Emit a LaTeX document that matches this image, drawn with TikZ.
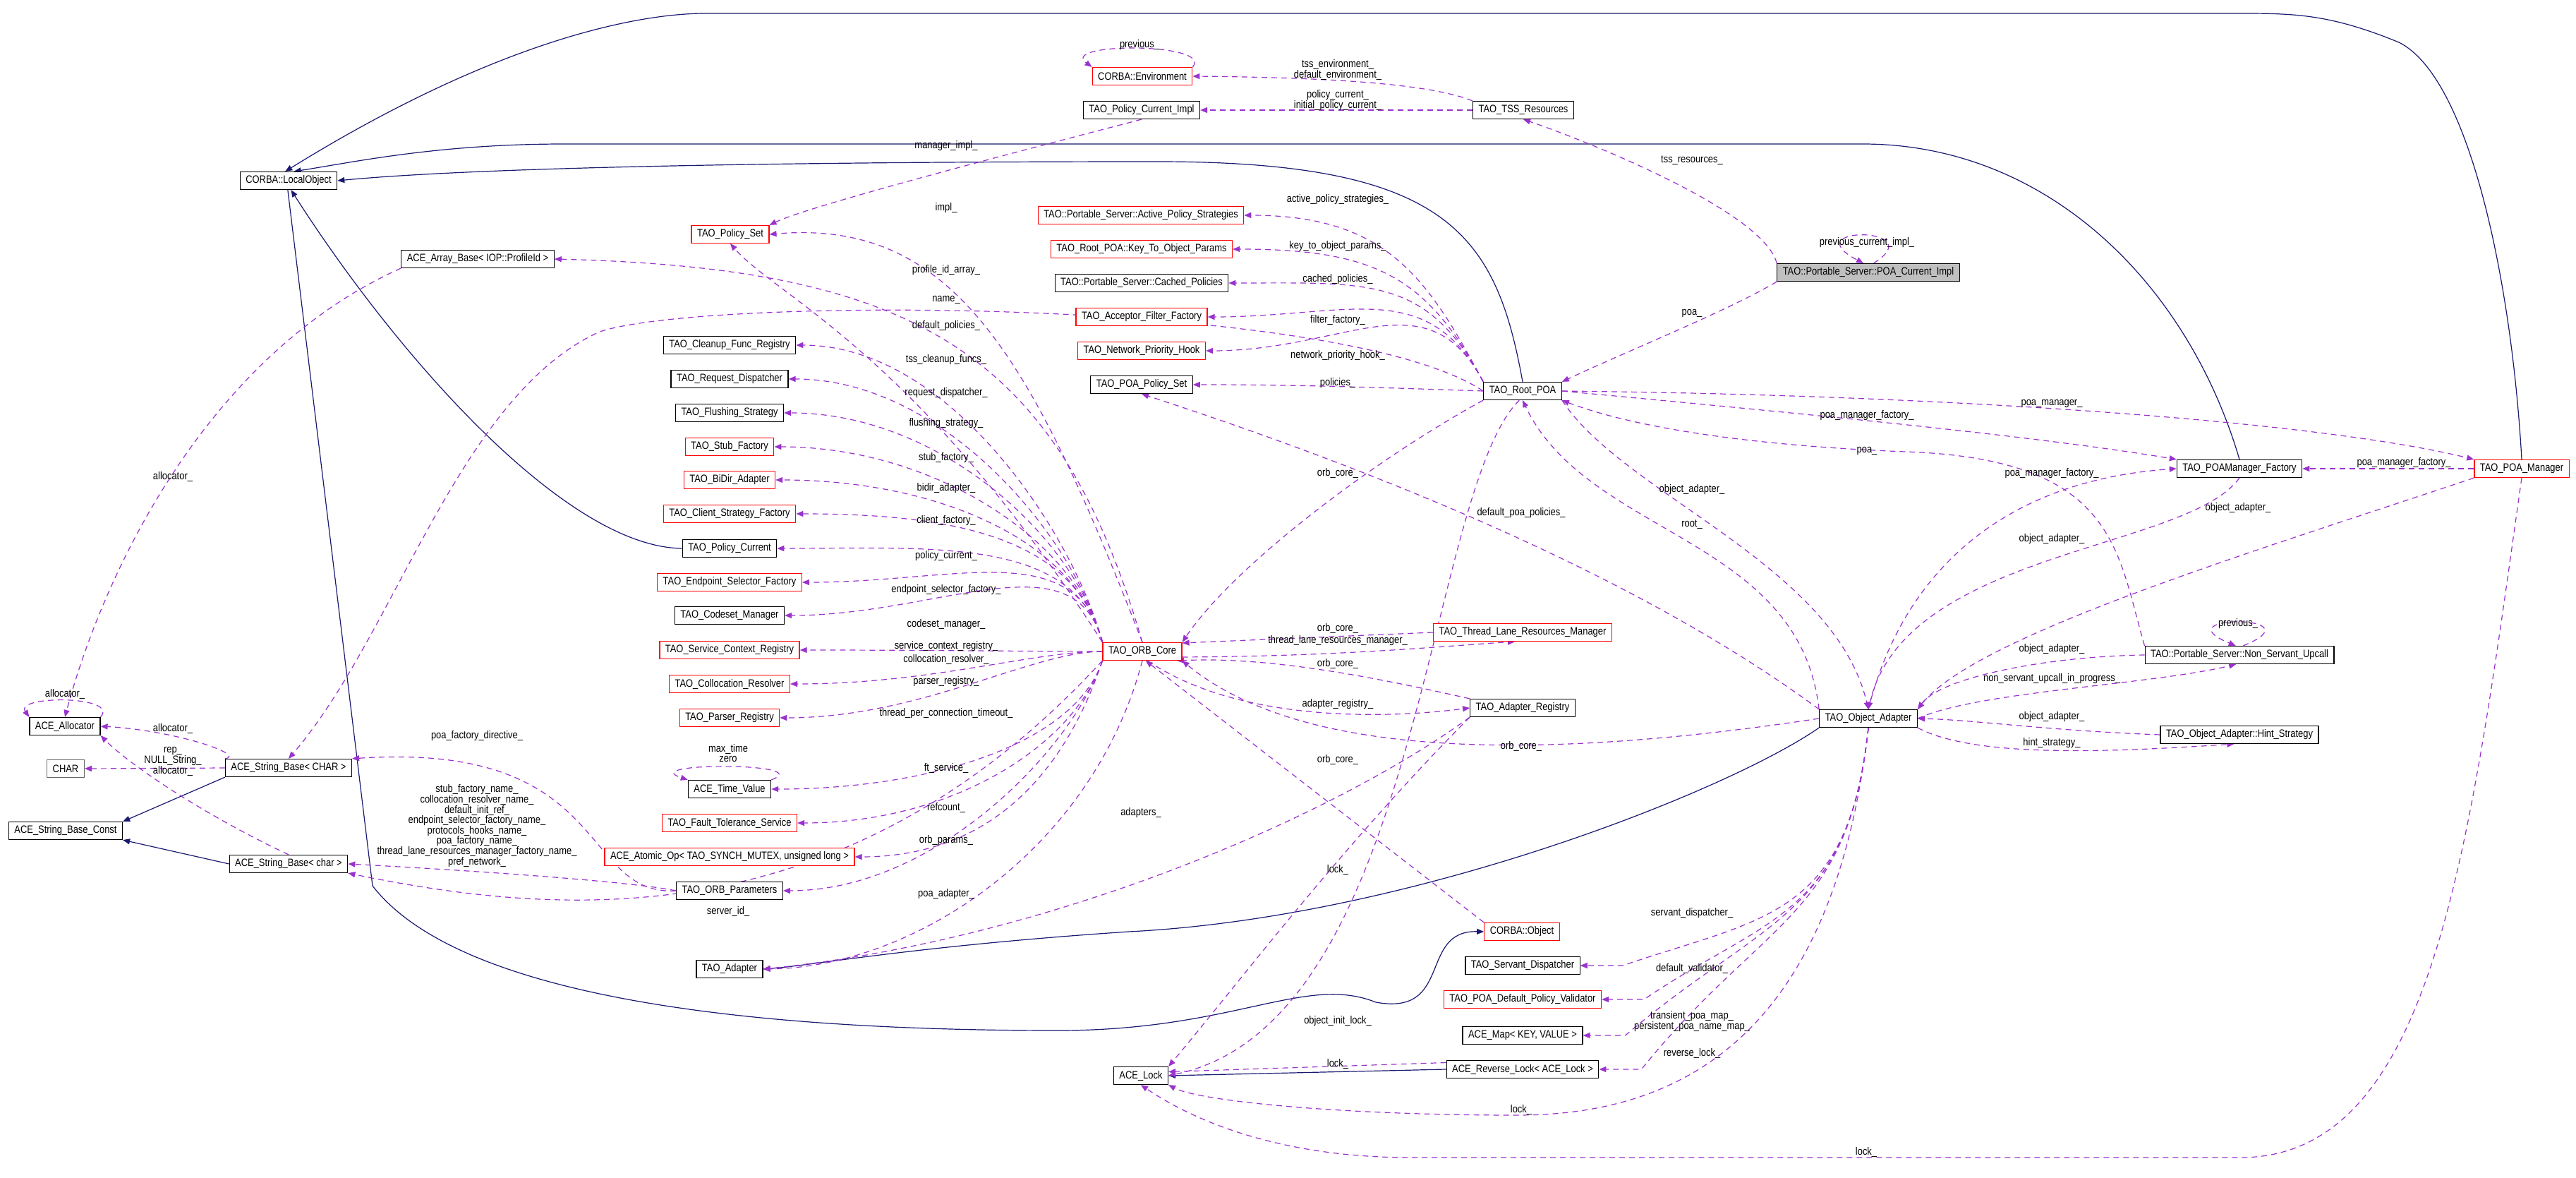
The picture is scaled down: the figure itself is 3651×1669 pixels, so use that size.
\documentclass[tikz,border=0pt]{standalone}
\usepackage{fontspec}
\newfontfamily\dx[FakeStretch=0.85]{Liberation Sans}
\usetikzlibrary{arrows.meta,calc}
\pgfdeclarelayer{bg}\pgfsetlayers{bg,main}
\definecolor{dep}{HTML}{9A32CD}
\definecolor{inh}{HTML}{191970}
\begin{document}
\begin{tikzpicture}[x=0.5pt,y=-0.5pt,
 box/.style={draw=black,fill=white,line width=0.6pt,inner xsep=4pt,inner ysep=0pt,minimum height=12.5pt,font=\dx\fontsize{7.6}{8}\selectfont},
 rbox/.style={box,draw=red},
 gbox/.style={box,draw=black!60,fill=white},
 lab/.style={inner sep=0.5pt,align=center,font=\dx\fontsize{7.6}{7.3}\selectfont},
 dep/.style={draw=dep,line width=0.6pt,dash pattern=on 4pt off 3pt,-{Triangle[length=5pt,width=4pt]}},
 inh/.style={draw=inh,line width=0.6pt,-{Triangle[length=5pt,width=4pt]}}]
\useasboundingbox (0,0) rectangle (3651,1669);
% nodes
\node[box] (lo) at (409,256) {CORBA::LocalObject};
\node[rbox] (env) at (1619,108) {CORBA::Environment};
\node[box] (pci) at (1618,156) {TAO\_Policy\_Current\_Impl};
\node[box] (tss) at (2159,156) {TAO\_TSS\_Resources};
\node[box,fill=black!25] (pcur) at (2648,386) {TAO::Portable\_Server::POA\_Current\_Impl};
\node[rbox] (ps) at (1035,332) {TAO\_Policy\_Set};
\node[box] (arr) at (677,367) {ACE\_Array\_Base< IOP::ProfileId >};
\node[rbox] (aps) at (1617,305) {TAO::Portable\_Server::Active\_Policy\_Strategies};
\node[rbox] (kto) at (1618,353) {TAO\_Root\_POA::Key\_To\_Object\_Params};
\node[box] (cp) at (1618,401) {TAO::Portable\_Server::Cached\_Policies};
\node[rbox] (aff) at (1618,449) {TAO\_Acceptor\_Filter\_Factory};
\node[rbox] (nph) at (1618,497) {TAO\_Network\_Priority\_Hook};
\node[box] (pps) at (1618,545) {TAO\_POA\_Policy\_Set};
\node[box] (rp) at (2158,554) {TAO\_Root\_POA};
\node[box] (cfr) at (1034,489) {TAO\_Cleanup\_Func\_Registry};
\node[box] (rd) at (1034,537) {TAO\_Request\_Dispatcher};
\node[box] (fs) at (1034,585) {TAO\_Flushing\_Strategy};
\node[rbox] (sf) at (1034,633) {TAO\_Stub\_Factory};
\node[rbox] (bda) at (1034,680) {TAO\_BiDir\_Adapter};
\node[rbox] (csf) at (1034,728) {TAO\_Client\_Strategy\_Factory};
\node[box] (pcu) at (1034,777) {TAO\_Policy\_Current};
\node[rbox] (esf) at (1034,825) {TAO\_Endpoint\_Selector\_Factory};
\node[box] (cm) at (1034,872) {TAO\_Codeset\_Manager};
\node[rbox] (scr) at (1034,921) {TAO\_Service\_Context\_Registry};
\node[rbox] (cr) at (1034,969) {TAO\_Collocation\_Resolver};
\node[rbox] (pr) at (1034,1017) {TAO\_Parser\_Registry};
\node[box] (tv) at (1034,1118) {ACE\_Time\_Value};
\node[rbox] (fts) at (1034,1166) {TAO\_Fault\_Tolerance\_Service};
\node[rbox] (ao) at (1034,1214) {ACE\_Atomic\_Op< TAO\_SYNCH\_MUTEX, unsigned long >};
\node[box] (op) at (1034,1262) {TAO\_ORB\_Parameters};
\node[box] (ad) at (1034,1373) {TAO\_Adapter};
\node[box] (alloc) at (92,1029) {ACE\_Allocator};
\node[gbox] (chr) at (93,1089) {CHAR};
\node[box] (strC) at (409,1088) {ACE\_String\_Base< CHAR >};
\node[box] (sbc) at (93,1177) {ACE\_String\_Base\_Const};
\node[box] (strc) at (409,1224) {ACE\_String\_Base< char >};
\node[rbox] (core) at (1619,923) {TAO\_ORB\_Core};
\node[rbox] (tlrm) at (2158,896) {TAO\_Thread\_Lane\_Resources\_Manager};
\node[box] (areg) at (2158,1003) {TAO\_Adapter\_Registry};
\node[rbox] (obj) at (2157,1320) {CORBA::Object};
\node[box] (sd) at (2158,1368) {TAO\_Servant\_Dispatcher};
\node[rbox] (dpv) at (2158,1416) {TAO\_POA\_Default\_Policy\_Validator};
\node[box] (map) at (2158,1467) {ACE\_Map< KEY, VALUE >};
\node[box] (rl) at (2158,1515) {ACE\_Reverse\_Lock< ACE\_Lock >};
\node[box] (lock) at (1617,1524) {ACE\_Lock};
\node[box] (pmf) at (3174,664) {TAO\_POAManager\_Factory};
\node[rbox] (pm) at (3574,664) {TAO\_POA\_Manager};
\node[box] (upc) at (3174,928) {TAO::Portable\_Server::Non\_Servant\_Upcall};
\node[box] (oa) at (2648,1018) {TAO\_Object\_Adapter};
\node[box] (hs) at (3174,1041) {TAO\_Object\_Adapter::Hint\_Strategy};
% labels
\node[lab] (l1) at (1615,64) {previous\_};
\node[lab] (l2) at (1896,99) {tss\_environment\_\\default\_environment\_};
\node[lab] (l3) at (1896,142) {policy\_current\_\\initial\_policy\_current\_};
\node[lab] (l4) at (1341,207) {manager\_impl\_};
\node[lab] (l5) at (2398,227) {tss\_resources\_};
\node[lab] (l6) at (2646,344) {previous\_current\_impl\_};
\node[lab] (l7) at (2398,444) {poa\_};
\node[lab] at (1896,283) {active\_policy\_strategies\_};
\node[lab] at (1896,349) {key\_to\_object\_params\_};
\node[lab] at (1896,396) {cached\_policies\_};
\node[lab] at (1896,454) {filter\_factory\_};
\node[lab] at (1896,504) {network\_priority\_hook\_};
\node[lab] at (1896,543) {policies\_};
\node[lab] at (1896,670) {orb\_core\_};
\node[lab] at (2398,694) {object\_adapter\_};
\node[lab] at (1341,295) {impl\_};
\node[lab] at (1341,383) {profile\_id\_array\_};
\node[lab] at (1341,425) {name\_};
\node[lab] at (1341,462) {default\_policies\_};
\node[lab] at (1341,510) {tss\_cleanup\_funcs\_};
\node[lab] at (1341,557) {request\_dispatcher\_};
\node[lab] at (1341,600) {flushing\_strategy\_};
\node[lab] at (1341,649) {stub\_factory\_};
\node[lab] at (1341,692) {bidir\_adapter\_};
\node[lab] at (1341,738) {client\_factory\_};
\node[lab] at (1341,788) {policy\_current\_};
\node[lab] at (1341,836) {endpoint\_selector\_factory\_};
\node[lab] at (1341,885) {codeset\_manager\_};
\node[lab] at (1341,916) {service\_context\_registry\_};
\node[lab] at (1341,934) {collocation\_resolver\_};
\node[lab] at (1341,966) {parser\_registry\_};
\node[lab] at (1341,1011) {thread\_per\_connection\_timeout\_};
\node[lab] at (1341,1088) {ft\_service\_};
\node[lab] at (1341,1144) {refcount\_};
\node[lab] at (1341,1191) {orb\_params\_};
\node[lab] at (1341,1267) {poa\_adapter\_};
\node[lab] at (1617,1152) {adapters\_};
\node[lab] at (2156,727) {default\_poa\_policies\_};
\node[lab] at (2398,743) {root\_};
\node[lab] at (1896,890) {orb\_core\_};
\node[lab] at (1896,908) {thread\_lane\_resources\_manager\_};
\node[lab] at (1896,940) {orb\_core\_};
\node[lab] at (1896,998) {adapter\_registry\_};
\node[lab] at (2156,1057) {orb\_core\_};
\node[lab] at (1896,1076) {orb\_core\_};
\node[lab] at (1896,1232) {lock\_};
\node[lab] at (2398,1294) {servant\_dispatcher\_};
\node[lab] at (2398,1372) {default\_validator\_};
\node[lab] at (2398,1447) {transient\_poa\_map\_\\persistent\_poa\_name\_map\_};
\node[lab] at (2398,1492) {reverse\_lock\_};
\node[lab] at (1896,1447) {object\_init\_lock\_};
\node[lab] at (1896,1507) {lock\_};
\node[lab] at (2156,1572) {lock\_};
\node[lab] at (2645,1632) {lock\_};
\node[lab] at (2908,572) {poa\_manager\_};
\node[lab] at (2646,589) {poa\_manager\_factory\_};
\node[lab] at (2646,639) {poa\_};
\node[lab] at (3407,656) {poa\_manager\_factory\_};
\node[lab] at (2908,671) {poa\_manager\_factory\_};
\node[lab] at (3172,720) {object\_adapter\_};
\node[lab] at (2908,764) {object\_adapter\_};
\node[lab] at (3172,884) {previous\_};
\node[lab] at (2908,920) {object\_adapter\_};
\node[lab] at (2908,962) {non\_servant\_upcall\_in\_progress\_};
\node[lab] at (2908,1016) {object\_adapter\_};
\node[lab] at (2908,1053) {hint\_strategy\_};
\node[lab] at (1032,1067) {max\_time\\zero};
\node[lab] at (1032,1291) {server\_id\_};
\node[lab] at (245,675) {allocator\_};
\node[lab] at (92,983) {allocator\_};
\node[lab] at (245,1032) {allocator\_};
\node[lab] at (245,1079) {rep\_\\NULL\_String\_\\allocator\_};
\node[lab] at (676,1043) {poa\_factory\_directive\_};
\node[lab] at (676,1170) {stub\_factory\_name\_\\collocation\_resolver\_name\_\\default\_init\_ref\_\\endpoint\_selector\_factory\_name\_\\protocols\_hooks\_name\_\\poa\_factory\_name\_\\thread\_lane\_resources\_manager\_factory\_name\_\\pref\_network\_};
\begin{pgfonlayer}{bg}
% inheritance
\draw[inh] (pm.north) .. controls (3560,400) and (3500,110) .. (3400,60) .. controls (3300,19) and (3250,19) .. (3170,19) -- (1000,19) .. controls (900,19) and (700,60) .. (lo.110);
\draw[inh] (pmf.north) .. controls (3100,400) and (2900,204) .. (2640,204) -- (800,204) .. controls (620,204) and (500,230) .. (lo.60);
\draw[inh] (rp.north) .. controls (2120,330) and (2050,229) .. (1640,229) .. controls (1200,229) and (700,235) .. (lo.east);
\draw[inh] (pcu.west) .. controls (800,775) and (560,500) .. (lo.-75);
\draw[inh] (lo.-95) -- (528,1255) .. controls (640,1400) and (1000,1460) .. (1500,1460) .. controls (1750,1460) and (1850,1380) .. (1950,1420) .. controls (2060,1440) and (2010,1318) .. (obj.west);
\draw[inh] (oa.south west) .. controls (2450,1120) and (2000,1300) .. (1600,1320) .. controls (1300,1340) and (1150,1368) .. (ad.east);
\draw[inh] (rl.west) -- (lock.east);
\draw[inh] (strC.south west) -- (sbc.north east);
\draw[inh] (strc.west) -- (sbc.south east);
% dependencies
\draw[dep] (env.north east) .. controls (1720,60) and (1500,60) .. (env.north west);
\draw[dep] (tss.north west) .. controls (2030,120) and (1900,110) .. (env.east);
\draw[dep] (tss.west) -- (pci.east);
\draw[dep] (pci.south) .. controls (1500,200) and (1150,290) .. (ps.north east);
\draw[dep] (pcur.north west) .. controls (2500,300) and (2250,200) .. (tss.south);
\draw[dep] (pcur.60) .. controls (2740,320) and (2540,320) .. (pcur.118);
\draw[dep] (pcur.south west) .. controls (2450,440) and (2300,500) .. (rp.north east);
\foreach \t in {aps,kto,cp,aff,nph}
  \draw[dep] (rp.north west) .. controls +(-80,-150) and +(200,0) .. (\t.east);
\draw[dep] (rp.west) .. controls +(-150,-5) and +(150,0) .. (pps.east);
\draw[dep] (rp.south west) .. controls (1950,650) and (1750,800) .. (core.north east);
\draw[dep] (rp.east) .. controls (2800,560) and (3300,600) .. (pm.north west);
\draw[dep] (rp.east) .. controls (2600,590) and (2900,620) .. (pmf.north west);
\draw[dep] (upc.north west) .. controls (3000,780) and (3000,650) .. (2700,640) .. controls (2450,630) and (2300,600) .. (rp.south east);
\draw[dep] (oa.north) .. controls (2700,800) and (2850,680) .. (pmf.west);
\draw[dep] (pmf.south) .. controls (3100,780) and (2700,780) .. (oa.north);
\draw[dep] (pm.south west) .. controls (3200,780) and (2800,900) .. (oa.north east);
\draw[dep] (rp.south east) .. controls (2300,700) and (2600,800) .. (oa.north);
\draw[dep] (oa.north west) .. controls (2550,760) and (2250,760) .. (rp.south);
\draw[dep] (oa.north west) .. controls (2300,800) and (1900,650) .. (pps.south);
\draw[dep] (pm.west) -- (pmf.east);
\draw[dep] (upc.west) .. controls (2900,930) and (2750,960) .. (oa.north east);
\draw[dep] (oa.east) .. controls (2800,980) and (3050,970) .. (upc.-110);
\draw[dep] (upc.68) .. controls (3290,870) and (3060,870) .. (upc.112);
\draw[dep] (hs.west) .. controls (2900,1035) and (2800,1020) .. (oa.east);
\draw[dep] (oa.south east) .. controls (2800,1075) and (3000,1065) .. (hs.-120);
\draw[dep] (oa.west) .. controls (2200,1075) and (1850,1080) .. (core.south east);
\draw[dep] (tlrm.west) -- (core.12);
\draw[dep] (core.-8) .. controls (1900,930) and (2050,915) .. (tlrm.-130);
\draw[dep] (areg.north west) .. controls (1950,960) and (1800,930) .. (core.-15);
\draw[dep] (core.-60) .. controls (1750,1020) and (1950,1020) .. (areg.west);
\draw[dep] (obj.north west) -- (core.-70);
\draw[dep] (areg.south west) .. controls (1900,1150) and (1500,1330) .. (ad.east);
\draw[dep] (areg.south west) .. controls (1900,1200) and (1750,1400) .. (lock.north east);
\draw[dep] (rp.-110) .. controls (2020,700) and (2015,1450) .. (lock.east);
\draw[dep] (rl.175) -- (lock.8);
\draw[dep] (oa.south) .. controls (2600,1450) and (2400,1580) .. (2150,1580) .. controls (1900,1580) and (1700,1560) .. (lock.south east);
\draw[dep] (pm.south) .. controls (3500,1200) and (3450,1640) .. (3175,1640) -- (2000,1640) .. controls (1800,1640) and (1680,1580) .. (lock.south);
\foreach \t in {sd,dpv,map,rl}
  \draw[dep] (oa.south) .. controls (2620,1300) and (2500,1300) .. ($(\t.east)+(60,0)$) -- (\t.east);
\foreach \t in {cfr,rd,fs,sf,bda,csf,pcu,esf,cm}
  \draw[dep] (core.north west) .. controls +(-40,-150) and +(220,0) .. (\t.east);
\foreach \t in {scr,cr,pr}
  \draw[dep] (core.west) .. controls +(-100,0) and +(200,0) .. (\t.east);
\foreach \t in {tv,fts,ao,op}
  \draw[dep] (core.south west) .. controls +(-40,120) and +(220,0) .. (\t.east);
\draw[dep] (core.south) .. controls (1550,1200) and (1300,1370) .. (ad.east);
\draw[dep] (core.north) .. controls (1460,500) and (1350,310) .. (ps.east);
\draw[dep] (core.north west) .. controls (1300,500) and (1100,420) .. (ps.south);
\draw[dep] (core.north) .. controls (1500,500) and (1300,380) .. (arr.east);
\draw[dep] (rp.west) .. controls (1900,420) and (1000,420) .. (850,470) .. controls (650,560) and (560,900) .. (strC.north);
\draw[dep] (tv.north east) .. controls (1160,1080) and (900,1080) .. (tv.north west);
\draw[dep] (op.west) .. controls (820,1270) and (870,1050) .. (strC.north east);
\draw[dep] (op.west) .. controls (900,1250) and (700,1235) .. (strc.east);
\draw[dep] (core.south west) .. controls (1200,1330) and (800,1300) .. (strc.south east);
\draw[dep] (strC.north west) .. controls (350,1070) and (250,1035) .. (alloc.east);
\draw[dep] (strc.north) .. controls (280,1150) and (180,1080) .. (alloc.south east);
\draw[dep] (strC.west) -- (chr.east);
\draw[dep] (alloc.north east) .. controls (170,985) and (20,985) .. (alloc.north west);
\draw[dep] (arr.south west) .. controls (300,500) and (150,800) .. (alloc.north);
\end{pgfonlayer}
\end{tikzpicture}
\end{document}
